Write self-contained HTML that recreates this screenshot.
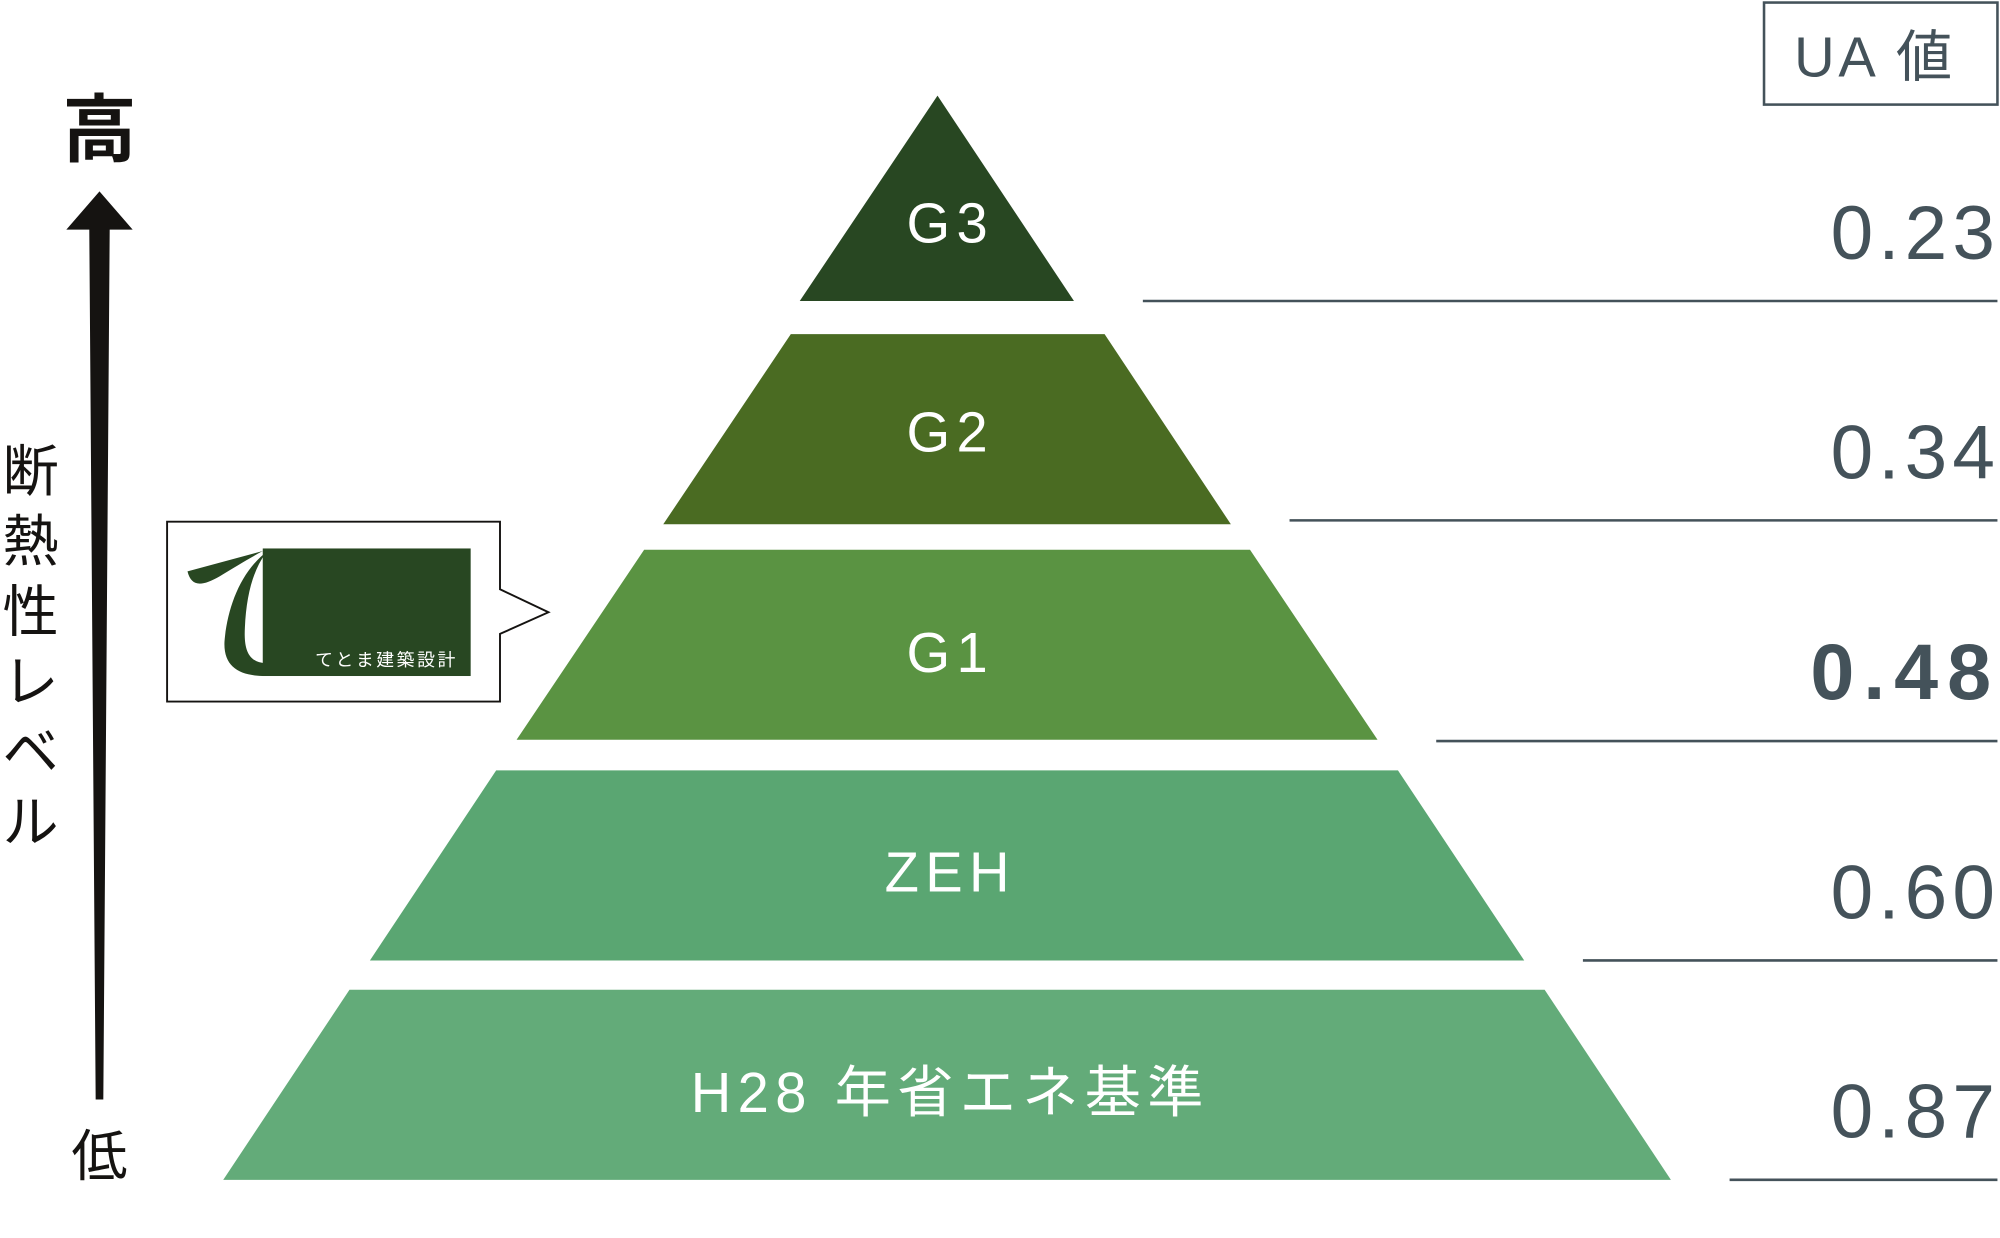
<!DOCTYPE html>
<html><head><meta charset="utf-8"><style>
html,body{margin:0;padding:0;background:#fff;}
svg{display:block}
text{font-family:"Liberation Sans","Noto Sans CJK JP",sans-serif;}
</style></head><body>
<svg width="2000" height="1238" viewBox="0 0 1568 970.6" preserveAspectRatio="none" xmlns="http://www.w3.org/2000/svg">
<polygon points="735,75 842,236 627,236" fill="#284722"/>
<polygon points="620,262 866,262 965,411 520,411" fill="#4a6b22"/>
<polygon points="505,431 980,431 1080,580 405,580" fill="#5a9342"/>
<polygon points="389,604 1096,604 1195,753 290,753" fill="#5aa672"/>
<polygon points="274,776 1211,776 1310,925 175,925" fill="#63ab79"/>
<g fill="#fff" font-size="44" text-anchor="middle" letter-spacing="5">
<text x="745" y="190">G3</text>
<text x="745" y="354">G2</text>
<text x="745" y="527">G1</text>
<text x="745" y="699">ZEH</text>
<text x="745" y="872" letter-spacing="5">H28 年省エネ基準</text>
</g>
<g stroke="#44525a" stroke-width="2">
<line x1="896" y1="236" x2="1566" y2="236"/>
<line x1="1011" y1="408" x2="1566" y2="408"/>
<line x1="1126" y1="581" x2="1566" y2="581"/>
<line x1="1241" y1="753" x2="1566" y2="753"/>
<line x1="1356" y1="925" x2="1566" y2="925"/>
</g>
<g fill="#44525a" font-size="60" text-anchor="end" letter-spacing="4">
<text x="1568" y="203">0.23</text>
<text x="1568" y="375">0.34</text>
<text x="1568" y="548" font-weight="bold" letter-spacing="7" font-size="62">0.48</text>
<text x="1568" y="720">0.60</text>
<text x="1568" y="892">0.87</text>
</g>
<rect x="1383" y="2" width="183" height="80" fill="none" stroke="#44525a" stroke-width="2"/>
<text x="1470" y="60" fill="#44525a" font-size="44" text-anchor="middle" letter-spacing="3">UA 値</text>
<polygon points="78,150 104,180 86,180 81,862 75,862 70,180 52,180" fill="#151311"/>
<text x="78" y="122" font-size="58" font-weight="bold" text-anchor="middle" fill="#151311">高</text>
<text x="78" y="922" font-size="44" text-anchor="middle" fill="#151311">低</text>
<g font-size="44" fill="#151311" text-anchor="middle">
<text x="24" y="385">断</text>
<text x="24" y="440">熱</text>
<text x="24" y="495">性</text>
<text x="24" y="550">レ</text>
<text x="24" y="605">ベ</text>
<text x="24" y="660">ル</text>
</g>
<path d="M131,409 H392 V462 L430,480 L392,497 V550 H131 Z" fill="#fff" stroke="#151311" stroke-width="1.5"/>
<rect x="206" y="430" width="163" height="100" fill="#284722"/>
<path d="M147,448 C150,460 158,460 172,452 C185,444 195,438 206,432 L210,432 C188,448 178,478 176,503 C175,523 188,530 208,530 L208,520 C195,519 191,510 192,492 C193,468 198,448 208,434 L206,432 Z" fill="#284722"/>
<text x="303" y="522" font-size="14" fill="#fff" text-anchor="middle" letter-spacing="2">てとま建築設計</text>
</svg>
</body></html>
